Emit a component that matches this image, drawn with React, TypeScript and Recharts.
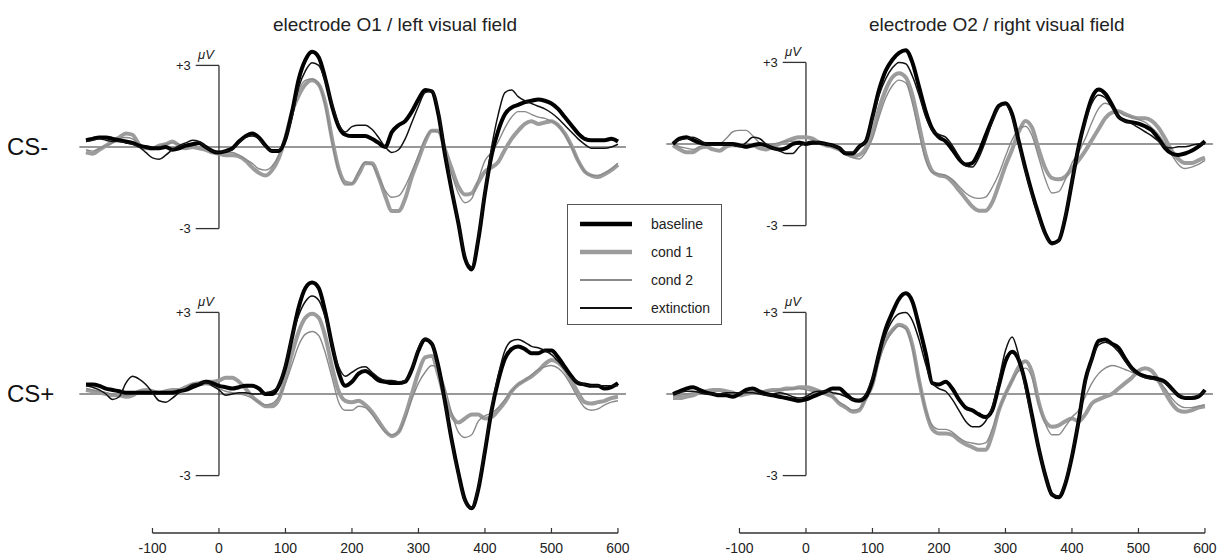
import React from 'react';
import { LineChart, Line, XAxis, YAxis, ReferenceLine, Label } from 'recharts';

// zeitachse in ms
const times = [
  -200, -190, -180, -170, -160, -150, -140, -130, -120, -110,
  -100, -90, -80, -70, -60, -50, -40, -30, -20, -10,
  0, 10, 20, 30, 40, 50, 60, 70, 80, 90,
  100, 110, 120, 130, 140, 150, 160, 170, 180, 190,
  200, 210, 220, 230, 240, 250, 260, 270, 280, 290,
  300, 310, 320, 330, 340, 350, 360, 370, 380, 390,
  400, 410, 420, 430, 440, 450, 460, 470, 480, 490,
  500, 510, 520, 530, 540, 550, 560, 570, 580, 590,
  600,
];

const xTicks = [-100, 0, 100, 200, 300, 400, 500, 600];

// O1 / CS-
const o1MinusBaseline = [
  0.25, 0.3, 0.35, 0.35, 0.3, 0.25, 0.2, 0.15, 0.05, 0.0,
  -0.05, -0.05, 0.0, -0.1, -0.05, 0.05, 0.1, 0.15, 0.0, -0.15,
  -0.2, -0.15, -0.05, 0.2, 0.4, 0.5, 0.35, 0.05, -0.15, -0.15,
  0.3, 1.3, 2.5, 3.2, 3.5, 3.3, 2.5, 1.5, 0.75, 0.45,
  0.4, 0.4, 0.4, 0.3, 0.15, 0.0, 0.55, 0.8, 0.95, 1.3,
  1.75, 2.1, 2.05, 1.2, -0.3, -1.6, -2.8, -4.1, -4.5, -3.4,
  -1.7, -0.3, 0.6, 1.2, 1.45, 1.55, 1.65, 1.7, 1.75, 1.7,
  1.6, 1.4, 1.1, 0.8, 0.5, 0.3, 0.25, 0.25, 0.25, 0.3,
  0.2,
];
const o1MinusCond1 = [
  -0.2, -0.25, -0.1, 0.05, 0.2, 0.35, 0.5, 0.45, 0.1, -0.05,
  -0.05, 0.05, 0.1, 0.2, 0.05, -0.05, 0.0, -0.05, -0.1, -0.2,
  -0.25, -0.3, -0.3, -0.35, -0.5, -0.75, -0.95, -1.05, -0.85, -0.4,
  0.35, 1.3, 1.9, 2.3, 2.45, 2.3, 1.6, 0.3, -0.8, -1.3,
  -1.35, -1.0, -0.6, -0.6, -1.1, -1.8, -2.35, -2.35, -1.9, -1.1,
  -0.45, 0.2, 0.6, 0.6, -0.1, -0.8, -1.45, -1.75, -1.7, -1.3,
  -0.9, -0.75, -0.55, -0.1, 0.3, 0.6, 0.85, 0.95, 0.85, 0.9,
  0.95, 0.8, 0.5, 0.05, -0.5, -0.9, -1.05, -1.1, -1.0, -0.85,
  -0.65,
];
const o1MinusCond2 = [
  -0.1, -0.15, -0.05, 0.05, 0.15, 0.3, 0.35, 0.3, 0.1, 0.0,
  0.0, 0.05, 0.1, 0.15, 0.1, 0.0, 0.05, 0.1, 0.0, -0.1,
  -0.2, -0.2, -0.2, -0.3, -0.45, -0.6, -0.8, -0.85, -0.7, -0.3,
  0.4, 1.4, 2.1, 2.45, 2.5, 2.3, 1.5, 0.2, -0.9, -1.4,
  -1.35, -0.9, -0.55, -0.65, -1.1, -1.6, -1.85, -1.8, -1.45, -0.9,
  -0.3, 0.3, 0.6, 0.55, -0.2, -1.0, -1.7, -2.05, -1.9, -1.2,
  -0.5, -0.2, 0.2, 0.7, 1.1, 1.3, 1.3, 1.2, 1.1, 1.05,
  0.95, 0.8, 0.45, 0.0, -0.5, -0.9, -1.05, -1.05, -0.95, -0.8,
  -0.6,
];
const o1MinusExtinction = [
  0.2, 0.25, 0.3, 0.25, 0.2, 0.2, 0.15, 0.1, 0.0, -0.2,
  -0.4, -0.45, -0.3, -0.1, 0.05, 0.15, 0.25, 0.2, 0.0, -0.15,
  -0.2, -0.15, -0.1, 0.15, 0.35, 0.4, 0.3, 0.0, -0.15, -0.1,
  0.3, 1.1, 2.2, 2.8, 3.1, 3.0, 2.4, 1.6, 0.85, 0.55,
  0.75, 0.8, 0.8, 0.65, 0.35, 0.0, -0.2, -0.1, 0.3, 0.9,
  1.5, 2.0, 2.05, 1.3, -0.2, -1.5, -2.8, -4.0, -4.4, -3.3,
  -1.6, 0.0, 1.2, 2.0, 2.1, 1.85, 1.7, 1.6, 1.5, 1.4,
  1.25, 1.05, 0.8, 0.55, 0.3, 0.1, -0.05, -0.05, -0.05, 0.0,
  0.1,
];

// O2 / CS-
const o2MinusBaseline = [
  0.0, 0.2, 0.25, 0.15, 0.05, 0.0, 0.0, 0.0, 0.0, 0.0,
  -0.05, -0.1, -0.05, 0.0, -0.05, -0.15, -0.2, -0.15, 0.0, 0.05,
  0.0, 0.05, 0.05, 0.0, -0.05, -0.15, -0.35, -0.35, -0.1, 0.1,
  1.0, 2.0, 2.7, 3.1, 3.35, 3.45, 3.0, 2.1, 1.2, 0.55,
  0.25, 0.1, -0.2, -0.55, -0.75, -0.7, -0.3, 0.3, 0.9, 1.4,
  1.5, 1.1, 0.1, -0.9, -1.8, -2.6, -3.3, -3.65, -3.55, -2.7,
  -1.4, -0.1, 0.9, 1.7, 2.0, 1.85, 1.45, 1.0, 0.85, 0.8,
  0.75, 0.65, 0.5, 0.2, -0.15, -0.35, -0.4, -0.35, -0.25, -0.1,
  0.1,
];
const o2MinusCond1 = [
  -0.05, -0.2, -0.3, -0.3, -0.15, -0.1, -0.2, -0.25, -0.1, -0.05,
  -0.05, -0.1, -0.05, -0.15, -0.2, -0.1, 0.0, 0.1, 0.2, 0.25,
  0.25, 0.2, 0.05, -0.05, -0.1, -0.2, -0.35, -0.45, -0.4, -0.15,
  0.4, 1.3, 2.0, 2.45, 2.6, 2.45, 1.8, 0.7, -0.4, -1.0,
  -1.15, -1.2, -1.4, -1.7, -2.0, -2.3, -2.45, -2.45, -2.15, -1.5,
  -0.8, -0.2, 0.45, 0.85, 0.6, -0.2, -0.9, -1.25, -1.3, -1.2,
  -0.9, -0.6, -0.25, 0.15, 0.55, 0.95, 1.15, 1.2, 1.1, 1.0,
  0.95, 0.95, 0.85, 0.6, 0.2, -0.25, -0.55, -0.7, -0.7, -0.6,
  -0.5,
];
const o2MinusCond2 = [
  0.0, -0.1, -0.15, -0.2, -0.1, 0.0, -0.05, 0.0, 0.2, 0.45,
  0.5, 0.5, 0.3, 0.05, -0.05, 0.0, 0.05, 0.1, 0.1, 0.1,
  0.05, 0.05, 0.0, -0.05, -0.1, -0.2, -0.35, -0.5, -0.55, -0.3,
  0.2, 1.0, 1.7, 2.15, 2.35, 2.25, 1.5, 0.4, -0.6, -1.05,
  -1.1, -1.15, -1.3, -1.55, -1.8, -1.95, -2.0, -1.95, -1.6, -1.1,
  -0.45, 0.15, 0.55, 0.65, 0.3, -0.5, -1.3, -1.8, -1.75, -1.3,
  -0.7, -0.3, 0.2, 0.8, 1.3, 1.5, 1.4, 1.2, 1.05, 1.0,
  0.9, 0.8, 0.6, 0.35, 0.0, -0.4, -0.75, -0.9, -0.85, -0.75,
  -0.6,
];
const o2MinusExtinction = [
  0.05, 0.15, 0.2, 0.25, 0.15, 0.0, -0.05, -0.05, 0.0, -0.05,
  -0.1, 0.05, 0.25, 0.2, 0.0, -0.15, -0.25, -0.35, -0.35, -0.1,
  0.05, 0.1, 0.05, 0.0, -0.05, -0.15, -0.3, -0.3, -0.1, 0.1,
  0.9, 1.8, 2.4, 2.8, 3.0, 2.95, 2.5, 1.8, 1.0, 0.5,
  0.35, 0.25, -0.05, -0.45, -0.8, -0.85, -0.5, 0.1, 0.8, 1.35,
  1.45, 1.0, 0.0, -1.0, -1.9, -2.7, -3.35, -3.7, -3.55, -2.6,
  -1.4, -0.1, 0.8, 1.5, 1.8, 1.7, 1.35, 1.0, 0.85, 0.75,
  0.6, 0.45, 0.3, 0.1, -0.1, -0.15, -0.1, -0.1, -0.05, 0.0,
  0.0,
];

// O1 / CS+
const o1PlusBaseline = [
  0.35, 0.35, 0.3, 0.2, 0.15, 0.1, 0.05, 0.05, 0.05, 0.05,
  0.05, 0.05, 0.05, 0.05, 0.1, 0.15, 0.25, 0.35, 0.45, 0.4,
  0.3, 0.25, 0.2, 0.25, 0.3, 0.3, 0.2, 0.0, 0.0, 0.3,
  1.0, 2.1, 3.2, 3.9, 4.1, 3.9, 3.0, 1.8, 0.8, 0.3,
  0.45, 0.75, 0.85, 0.7, 0.5, 0.45, 0.4, 0.4, 0.45, 0.9,
  1.6, 2.0, 1.85, 1.0, -0.3, -1.7, -2.9, -3.9, -4.2, -3.5,
  -2.1, -0.6, 0.5, 1.3, 1.65, 1.75, 1.65, 1.5, 1.5, 1.6,
  1.6, 1.35, 1.0, 0.65, 0.4, 0.35, 0.3, 0.3, 0.2, 0.25,
  0.4,
];
const o1PlusCond1 = [
  0.15, 0.1, 0.05, 0.0, -0.05, -0.05, -0.1, -0.05, 0.1, 0.15,
  0.1, 0.05, 0.1, 0.15, 0.15, 0.25, 0.35, 0.4, 0.45, 0.45,
  0.5, 0.6, 0.6, 0.45, 0.2, -0.1, -0.3, -0.45, -0.45, -0.2,
  0.6, 1.5, 2.3, 2.8, 2.95, 2.8, 2.1, 1.0, 0.1, -0.25,
  -0.3, -0.25, -0.4, -0.65, -1.0, -1.35, -1.55, -1.4, -0.8, 0.0,
  0.8, 1.35, 1.4, 0.7, -0.2, -0.8, -1.05, -0.9, -0.75, -0.75,
  -0.9, -0.85, -0.6, -0.3, 0.1, 0.35, 0.5, 0.65, 0.85, 1.1,
  1.25, 1.15, 0.9, 0.5, 0.05, -0.3, -0.35, -0.3, -0.25, -0.15,
  -0.1,
];
const o1PlusCond2 = [
  0.2, 0.15, 0.1, 0.05, 0.0, -0.05, -0.05, 0.0, 0.1, 0.1,
  0.05, 0.0, 0.05, 0.1, 0.15, 0.2, 0.25, 0.3, 0.35, 0.3,
  0.2, 0.1, 0.05, 0.0, -0.05, -0.15, -0.3, -0.4, -0.35, -0.1,
  0.4, 1.1, 1.8, 2.2, 2.3, 2.15, 1.5, 0.6, -0.3, -0.6,
  -0.6, -0.45, -0.5, -0.75, -1.1, -1.4, -1.5, -1.4, -0.9, -0.2,
  0.4, 0.8, 1.05, 0.9, 0.2, -0.7, -1.4, -1.6, -1.5, -1.0,
  -0.8, -0.7, -0.5, -0.2, 0.1, 0.35, 0.5, 0.7, 0.9, 1.0,
  1.05, 0.95, 0.7, 0.3, -0.15, -0.5, -0.6, -0.55, -0.4, -0.3,
  -0.25,
];
const o1PlusExtinction = [
  0.3, 0.25, 0.15, 0.0, -0.2, -0.1, 0.4, 0.65, 0.55, 0.35,
  0.05, -0.25, -0.3, -0.15, 0.05, 0.2, 0.35, 0.4, 0.45, 0.3,
  0.15, -0.05, 0.0, 0.05, 0.05, 0.0, 0.0, 0.05, 0.1, 0.3,
  1.1, 2.1, 2.9, 3.4, 3.6, 3.45, 2.8, 1.8, 1.0, 0.65,
  0.8, 0.95, 1.0, 0.8, 0.6, 0.5, 0.5, 0.45, 0.5, 0.9,
  1.7, 2.05, 1.85, 0.9, -0.35, -1.75, -3.0, -3.95, -4.2, -3.4,
  -2.0, -0.5, 0.7, 1.6, 1.95, 2.0, 1.9, 1.75, 1.7, 1.6,
  1.45, 1.2, 0.9, 0.6, 0.45, 0.35, 0.3, 0.3, 0.3, 0.3,
  0.3,
];

// O2 / CS+
const o2PlusBaseline = [
  0.0, 0.1, 0.2, 0.25, 0.15, 0.05, 0.0, -0.05, -0.05, -0.1,
  0.0, 0.15, 0.2, 0.1, 0.0, -0.05, -0.1, -0.15, -0.2, -0.25,
  -0.2, -0.1, 0.0, 0.1, 0.2, 0.2, 0.0, -0.2, -0.25, -0.1,
  0.5, 1.5, 2.4, 3.0, 3.5, 3.7, 3.4, 2.5, 1.5, 0.4,
  0.35, 0.45, 0.2, -0.2, -0.5, -0.6, -0.75, -0.85, -0.6, 0.3,
  1.2, 1.55, 1.25, 0.4, -0.8, -2.0, -3.0, -3.7, -3.8, -3.3,
  -2.3, -1.0, 0.5, 1.3, 1.95, 2.0, 1.85, 1.7, 1.3, 0.95,
  0.75, 0.65, 0.6, 0.55, 0.45, 0.2, -0.05, -0.15, -0.15, -0.1,
  0.15,
];
const o2PlusCond1 = [
  -0.15, -0.15, -0.1, -0.05, 0.05, 0.1, 0.15, 0.15, 0.1, 0.05,
  -0.05, 0.0, 0.05, 0.05, 0.1, 0.15, 0.15, 0.2, 0.2, 0.25,
  0.25, 0.2, 0.1, 0.0, -0.1, -0.35, -0.5, -0.65, -0.6, -0.15,
  0.35, 1.4, 2.0, 2.35, 2.55, 2.45, 1.8, 0.5, -0.6, -1.3,
  -1.45, -1.45, -1.5, -1.7, -1.85, -1.95, -2.05, -2.05, -1.5, -0.6,
  0.0, 0.5, 1.0, 1.2, 0.8, -0.3, -1.0, -1.2, -1.15, -1.0,
  -0.9, -1.0, -0.75, -0.35, -0.2, -0.1, 0.0, 0.2, 0.4, 0.6,
  0.85, 0.95, 0.85, 0.5, 0.05, -0.35, -0.6, -0.65, -0.6, -0.5,
  -0.45,
];
const o2PlusCond2 = [
  -0.05, -0.05, 0.0, 0.05, 0.1, 0.1, 0.05, 0.0, 0.05, 0.05,
  0.0, 0.05, 0.1, 0.1, 0.1, 0.1, 0.15, 0.15, 0.2, 0.2,
  0.15, 0.1, 0.05, 0.0, -0.1, -0.3, -0.45, -0.6, -0.55, -0.2,
  0.3, 1.2, 1.9, 2.3, 2.5, 2.4, 1.7, 0.5, -0.6, -1.15,
  -1.3, -1.3, -1.4, -1.6, -1.75, -1.8, -1.85, -1.8, -1.3, -0.6,
  0.0, 0.5, 0.85, 0.95, 0.6, -0.4, -1.1, -1.5, -1.5, -1.2,
  -0.85, -0.6, -0.1, 0.4, 0.75, 0.95, 1.05, 1.0, 0.9, 0.8,
  0.75, 0.7, 0.6, 0.45, 0.2, -0.15, -0.4, -0.5, -0.5, -0.45,
  -0.4,
];
const o2PlusExtinction = [
  0.0, 0.05, 0.1, 0.1, 0.05, 0.0, 0.0, 0.0, 0.05, 0.05,
  0.05, 0.05, 0.05, 0.0, -0.05, 0.0, 0.05, 0.0, -0.1, -0.15,
  -0.1, 0.05, 0.1, 0.1, 0.05, 0.0, -0.1, -0.2, -0.2, 0.0,
  0.6, 1.5, 2.2, 2.7, 2.95, 3.0, 2.7, 2.0, 1.1, 0.4,
  0.2, 0.1, -0.2, -0.6, -1.0, -1.2, -1.2, -1.0, -0.5, 0.5,
  1.6, 2.1, 1.4, 0.2, -0.9, -2.0, -3.0, -3.7, -3.75, -3.2,
  -2.2, -1.0, 0.4, 1.25, 1.8, 1.9, 1.8, 1.55, 1.2, 0.9,
  0.7, 0.6, 0.55, 0.5, 0.4, 0.15, -0.05, -0.1, -0.1, -0.05,
  0.1,
];

const series = [
  { key: 'cond1', name: 'cond 1', color: '#9c9c9c', width: 4 },
  { key: 'cond2', name: 'cond 2', color: '#8a8a8a', width: 1.4 },
  { key: 'baseline', name: 'baseline', color: '#000000', width: 4 },
  { key: 'extinction', name: 'extinction', color: '#111111', width: 1.5 },
];
const legendOrder = ['baseline', 'cond1', 'cond2', 'extinction'];

const buildRows = (b: number[], c1: number[], c2: number[], ex: number[]) =>
  times.map((t, i) => ({ t, baseline: b[i], cond1: c1[i], cond2: c2[i], extinction: ex[i] }));

const FONT = '"Liberation Sans", Arial, Helvetica, sans-serif';
const AXIS = '#333333';
const PX_MS = 0.665;
const PX_UV = 27.2;
const T_MIN = -215;
const T_MAX = 640; // etwas platz rechts fuer das "600"-label
const CHART_W = (T_MAX - T_MIN) * PX_MS;

const renderXTick = (props: any) => {
  const { x, y, payload } = props;
  return (
    <g>
      <line x1={x} y1={y} x2={x} y2={y - 5} stroke={AXIS} strokeWidth={1.2} />
      <text x={x} y={y + 20} textAnchor="middle" fontSize={14} fill="#222" fontFamily={FONT}>
        {payload.value}
      </text>
    </g>
  );
};

const renderUv = (props: any) => {
  const vb = props.viewBox;
  if (!vb) return null;
  return (
    <text x={vb.x - 13} y={vb.y - 6} textAnchor="middle" fontSize={13} fontStyle="italic" fill="#222" fontFamily={FONT}>
      μV
    </text>
  );
};

interface PanelProps {
  data: any[];
  zeroX: number;
  zeroY: number;
  axisY?: number;
}

const Panel: React.FC<PanelProps> = ({ data, zeroX, zeroY, axisY }) => {
  const yMax = 5;
  const yMin = axisY ? -(axisY - zeroY) / PX_UV : -5.2;
  const plotH = (yMax - yMin) * PX_UV;
  const xAxisH = axisY ? 30 : 0;
  const left = zeroX + T_MIN * PX_MS;
  const top = zeroY - yMax * PX_UV;

  return (
    <div style={{ position: 'absolute', left, top }}>
      <LineChart width={CHART_W} height={plotH + xAxisH} data={data} margin={{ top: 0, right: 0, bottom: 0, left: 0 }}>
        <XAxis
          dataKey="t"
          type="number"
          domain={[T_MIN, T_MAX]}
          allowDataOverflow
          hide={!axisY}
          ticks={xTicks}
          interval={0}
          height={xAxisH}
          axisLine={false}
          tickLine={false}
          tickSize={0}
          tickMargin={0}
          tick={renderXTick}
        />
        <YAxis type="number" domain={[yMin, yMax]} allowDataOverflow hide />
        <ReferenceLine segment={[{ x: -210, y: 0 }, { x: 612, y: 0 }]} stroke={AXIS} strokeWidth={1.2} />
        <ReferenceLine segment={[{ x: 0, y: 3 }, { x: 0, y: -3 }]} stroke={AXIS} strokeWidth={1.3} label={renderUv} />
        <ReferenceLine
          segment={[{ x: -35, y: 3 }, { x: 0, y: 3 }]}
          stroke={AXIS}
          strokeWidth={1.3}
          label={<Label value="+3" position="left" offset={5} fontSize={13} fill="#222" />}
        />
        <ReferenceLine
          segment={[{ x: -35, y: -3 }, { x: 0, y: -3 }]}
          stroke={AXIS}
          strokeWidth={1.3}
          label={<Label value="-3" position="left" offset={5} fontSize={13} fill="#222" />}
        />
        {axisY && (
          <ReferenceLine
            segment={[{ x: -100, y: yMin }, { x: 600, y: yMin }]}
            stroke={AXIS}
            strokeWidth={1.3}
            ifOverflow="visible"
          />
        )}
        {series.map((s) => (
          <Line
            key={s.key}
            type="monotone"
            dataKey={s.key}
            stroke={s.color}
            strokeWidth={s.width}
            strokeLinejoin="round"
            dot={false}
            activeDot={false}
            isAnimationActive={false}
          />
        ))}
      </LineChart>
    </div>
  );
};

const LegendBox = () => (
  <div
    style={{
      position: 'absolute',
      left: 567,
      top: 204,
      width: 155,
      height: 121,
      border: '1px solid #555',
      boxSizing: 'border-box',
      background: '#fff',
    }}
  >
    {legendOrder.map((k, i) => {
      const s = series.find((x) => x.key === k)!;
      return (
        <div key={k} style={{ position: 'absolute', left: 0, top: 8 + i * 28, height: 22, display: 'flex', alignItems: 'center' }}>
          <svg width={78} height={22}>
            <line x1={12} y1={11} x2={64} y2={11} stroke={s.color} strokeWidth={s.width + 0.5} />
          </svg>
          <span style={{ fontSize: 14, color: '#222', fontFamily: FONT, marginLeft: 5 }}>{s.name}</span>
        </div>
      );
    })}
  </div>
);

export default function App() {
  const tl = buildRows(o1MinusBaseline, o1MinusCond1, o1MinusCond2, o1MinusExtinction);
  const tr = buildRows(o2MinusBaseline, o2MinusCond1, o2MinusCond2, o2MinusExtinction);
  const bl = buildRows(o1PlusBaseline, o1PlusCond1, o1PlusCond2, o1PlusExtinction);
  const br = buildRows(o2PlusBaseline, o2PlusCond1, o2PlusCond2, o2PlusExtinction);

  return (
    <div style={{ position: 'absolute', left: 0, top: 0, width: 1231, height: 556, background: '#fff', fontFamily: FONT, overflow: 'hidden' }}>
      <svg width={1231} height={556} style={{ position: 'absolute', left: 0, top: 0 }}>
        <text x={273} y={31} fontSize={19} fill="#222" fontFamily={FONT}>electrode O1 / left visual field</text>
        <text x={869} y={31} fontSize={19} fill="#222" fontFamily={FONT}>electrode O2 / right visual field</text>
        <text x={7} y={155} fontSize={24} fill="#111" fontFamily={FONT}>CS-</text>
        <text x={7} y={402} fontSize={24} fill="#111" fontFamily={FONT}>CS+</text>
      </svg>
      <Panel data={tl} zeroX={219} zeroY={147} />
      <Panel data={tr} zeroX={806} zeroY={144} />
      <Panel data={bl} zeroX={219} zeroY={394} axisY={533} />
      <Panel data={br} zeroX={806} zeroY={394} axisY={533} />
      <LegendBox />
    </div>
  );
}
